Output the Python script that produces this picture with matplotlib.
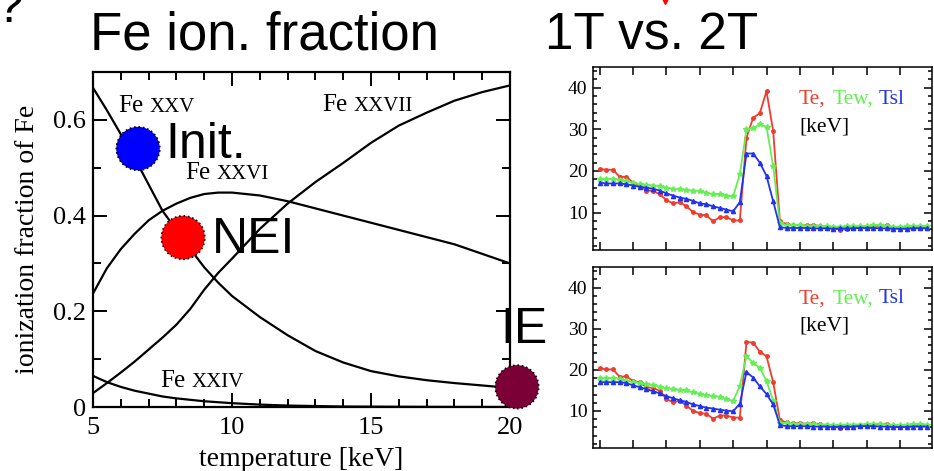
import numpy as np
import matplotlib.pyplot as plt
from matplotlib.lines import Line2D
from matplotlib.ticker import MultipleLocator

SERIF = 'Liberation Serif'
SANS = 'Liberation Sans'

# ---------------- left panel: Fe ion fractions vs temperature ----------------
TEMP = [5, 5.5, 6, 6.5, 7, 7.5, 8, 8.5, 9, 9.5, 10,
        11, 12, 13, 14, 15, 16, 17, 18, 19, 20]
FE24 = [0.065, 0.052, 0.042, 0.034, 0.028, 0.022, 0.018, 0.015, 0.012, 0.010, 0.008,
        0.005, 0.003, 0.002, 0.001, 0.0007, 0.0005, 0.0003, 0.0002, 0.0001, 0.0]
FE25 = [0.667, 0.62, 0.57, 0.52, 0.465, 0.41, 0.37, 0.33, 0.292, 0.26, 0.232,
        0.188, 0.15, 0.117, 0.093, 0.075, 0.064, 0.056, 0.05, 0.045, 0.04]
FE26 = [0.237, 0.29, 0.33, 0.362, 0.39, 0.41, 0.425, 0.437, 0.445, 0.448, 0.448,
        0.442, 0.43, 0.415, 0.40, 0.385, 0.37, 0.355, 0.34, 0.32, 0.30]
FE27 = [0.029, 0.05, 0.072, 0.095, 0.12, 0.145, 0.172, 0.205, 0.245, 0.28, 0.31,
        0.372, 0.425, 0.47, 0.51, 0.552, 0.588, 0.615, 0.64, 0.658, 0.672]

ION_NAMES = ['XXIV', 'XXV', 'XXVI', 'XXVII']

STATE_LABELS = ['Init.', 'NEI', 'IE']
STATE_T = [6.62, 8.24, 20.25]
STATE_FRAC = [0.54, 0.354, 0.042]

# ---------------- right panels: Te, Tew, Tsl profiles ----------------
IDX = np.arange(50)
FLAT_TE = [7.2, 7.0, 7.0, 6.9, 7.0, 6.8, 6.5, 6.2, 5.9, 6.0, 6.3, 6.5, 6.5, 6.6,
           6.8, 6.9, 6.4, 6.2, 6.3, 6.5, 6.4, 6.3]
FLAT_TEW = [7.0, 6.9, 6.9, 6.8, 6.8, 6.7, 6.7, 6.6, 6.6, 6.7, 6.7, 6.7, 6.8, 6.9,
            6.9, 6.7, 6.6, 6.6, 6.7, 6.8, 6.8, 6.7]
FLAT_TSL = [6.3, 6.3, 6.3, 6.3, 6.2, 6.2, 6.2, 6.1, 6.2, 6.2, 6.2, 6.3, 6.3, 6.3,
            6.2, 6.2, 6.1, 6.1, 6.1, 6.2, 6.2, 6.2]

TE_1T = [20.5, 20.3, 20.3, 18.6, 18.6, 17.2, 16.4, 15.3, 15.2, 14.4, 13.0, 12.2,
         12.5, 11.5, 10.1, 9.5, 9.3, 7.9, 8.9, 8.9, 8.1, 8.1,
         28.0, 32.8, 33.9, 39.2, 29.6, 8.0] + FLAT_TE
TEW_1T = [18.1, 18.1, 18.1, 17.9, 17.5, 17.2, 16.8, 16.7, 16.5, 16.4, 16.0, 15.7,
          15.7, 15.4, 15.3, 15.2, 14.8, 14.4, 14.4, 14.1, 13.9,
          19.2, 30.0, 30.3, 31.2, 30.6, 21.2, 7.4] + FLAT_TEW
TSL_1T = [17.2, 17.0, 17.0, 17.0, 16.8, 16.5, 16.2, 16.0, 15.7, 15.3, 14.6, 14.1,
          13.6, 13.3, 12.8, 12.2, 12.0, 11.5, 11.1, 10.7, 10.3,
          12.5, 24.2, 24.2, 22.0, 18.8, 12.7, 6.5] + FLAT_TSL

TE_2T = [20.4, 20.1, 20.1, 18.3, 18.4, 17.3, 17.0, 15.8, 15.6, 14.9, 12.9, 12.1,
         12.5, 11.3, 10.0, 9.5, 9.3, 8.1, 8.9, 8.9, 8.4, 8.4,
         26.8, 26.6, 24.4, 23.3, 17.0, 7.8] + FLAT_TE
TEW_2T = [18.0, 18.0, 18.0, 17.8, 17.4, 17.0, 16.8, 16.5, 16.3, 15.9, 15.5, 15.3,
          15.1, 15.0, 14.5, 14.2, 13.8, 13.6, 13.4, 12.9, 12.4,
          16.1, 23.3, 21.7, 20.5, 17.3, 12.5, 7.0] + FLAT_TEW
TSL_2T = [17.0, 17.0, 17.0, 17.0, 16.8, 16.2, 15.8, 15.3, 14.8, 14.3, 13.6, 13.1,
          12.6, 12.2, 11.6, 11.2, 10.8, 10.6, 10.3, 10.1, 9.9,
          11.8, 19.5, 18.1, 16.0, 14.1, 11.6, 6.6] + FLAT_TSL

RED = '#f03c2c'
GREEN = '#66ee55'
BLUE = '#2233ee'

fig = plt.figure(figsize=(9.34, 4.71), dpi=100)

############################## left panel ##############################
ax = fig.add_axes([93/934, 1-407/471, 417/934, 335/471])
for frac in [FE24, FE25, FE26, FE27]:
    ax.plot(TEMP, frac, color='black', lw=1.6)
ax.set_xlim(5, 20)
ax.set_ylim(0, 0.7)
ax.set_xticks([5, 10, 15, 20])
ax.xaxis.set_minor_locator(MultipleLocator(1))
ax.set_yticks([0, 0.2, 0.4, 0.6])
ax.set_yticklabels(['0', '0.2', '0.4', '0.6'])
ax.yaxis.set_minor_locator(MultipleLocator(0.1))
ax.tick_params(which='both', direction='in', top=True, right=True, width=1.4)
ax.tick_params(which='major', length=10)
ax.tick_params(which='minor', length=6)
ax.tick_params(axis='y', pad=5)
ax.tick_params(axis='x', pad=7)
for lab in ax.get_xticklabels() + ax.get_yticklabels():
    lab.set_fontfamily(SERIF)
    lab.set_fontsize(19)
for s in ax.spines.values():
    s.set_linewidth(1.6)
ax.set_xlabel('temperature [keV]', family=SERIF, fontsize=20, va='top')
ax.xaxis.set_label_coords(0.5, -0.12)
ax.set_ylabel('ionization fraction of Fe', family=SERIF, fontsize=20)
ax.yaxis.set_label_coords(-0.127, 0.5)


def fe_label(x, y, num):
    ax.text(x, y, 'Fe', family=SERIF, fontsize=18, va='baseline')
    ax.annotate(num, (x, y), xytext=(23, 0), textcoords='offset points',
                family=SERIF, fontsize=15, va='baseline')


fe_label(7.41, 0.042, ION_NAMES[0])
fe_label(5.9, 0.617, ION_NAMES[1])
fe_label(8.3, 0.477, ION_NAMES[2])
fe_label(13.24, 0.619, ION_NAMES[3])

state_cols = ['#0000ff', '#ff0000', '#7a0035']
offsets = [(19.5, -7), (21, -11), (-12, 31.5)]
for t, f, lab, c, off in zip(STATE_T, STATE_FRAC, STATE_LABELS, state_cols, offsets):
    ax.scatter([t], [f], s=980, color=c, edgecolors='black', linewidths=1.2,
               linestyles=':', zorder=5, clip_on=False)
    ax.annotate(lab, (t, f), xytext=off, textcoords='offset points',
                family=SANS, fontsize=36, va='baseline', zorder=6,
                annotation_clip=False)

############################## right panels ##############################
def profile(rect, te, tew, tsl):
    a = fig.add_axes(rect)
    a.plot(IDX, te, color=RED, lw=1.3, marker='o', ms=2.5)
    a.plot(IDX, tew, color=GREEN, lw=1.3, marker='*', ms=4)
    a.plot(IDX, tsl, color=BLUE, lw=1.3, marker='^', ms=3)
    a.set_xlim(-1, 49.8)
    a.set_ylim(1, 45)
    a.xaxis.set_major_locator(MultipleLocator(5))
    a.set_xticklabels([])
    a.set_yticks([10, 20, 30, 40])
    a.yaxis.set_minor_locator(MultipleLocator(2))
    a.tick_params(which='both', direction='in', top=True, right=True, width=1.1)
    a.tick_params(which='major', length=6)
    a.tick_params(which='minor', length=3)
    a.tick_params(axis='y', pad=4)
    for lab in a.get_yticklabels():
        lab.set_fontfamily(SERIF)
        lab.set_fontsize(14)
    for s in a.spines.values():
        s.set_linewidth(1.1)
    a.text(0.606, 0.80, 'Te,', color=RED, family=SERIF, fontsize=15.5,
           transform=a.transAxes, va='baseline')
    a.text(0.708, 0.80, 'Tew,', color=GREEN, family=SERIF, fontsize=15.5,
           transform=a.transAxes, va='baseline')
    a.text(0.842, 0.80, 'Tsl', color=BLUE, family=SERIF, fontsize=15.5,
           transform=a.transAxes, va='baseline')
    a.text(0.608, 0.65, '[keV]', color='black', family=SERIF, fontsize=15.5,
           transform=a.transAxes, va='baseline')
    return a


profile([593/934, 1-250/471, 339/934, 183/471], TE_1T, TEW_1T, TSL_1T)
profile([593/934, 1-448/471, 339/934, 181/471], TE_2T, TEW_2T, TSL_2T)

############################## titles ##############################
fig.text(90/934, 1-50/471, 'Fe ion. fraction', family=SANS, fontsize=38, va='baseline')
fig.text(545/934, 1-50/471, '1T vs. 2T', family=SANS, fontsize=37, va='baseline')
fig.text(-4/934, 1-22/471, '?', family=SANS, fontsize=36, va='baseline')
fig.add_artist(Line2D([665/934], [1-1/471], marker='v', color='red', ms=4,
                      transform=fig.transFigure))

fig.savefig('out.png', dpi=100)
